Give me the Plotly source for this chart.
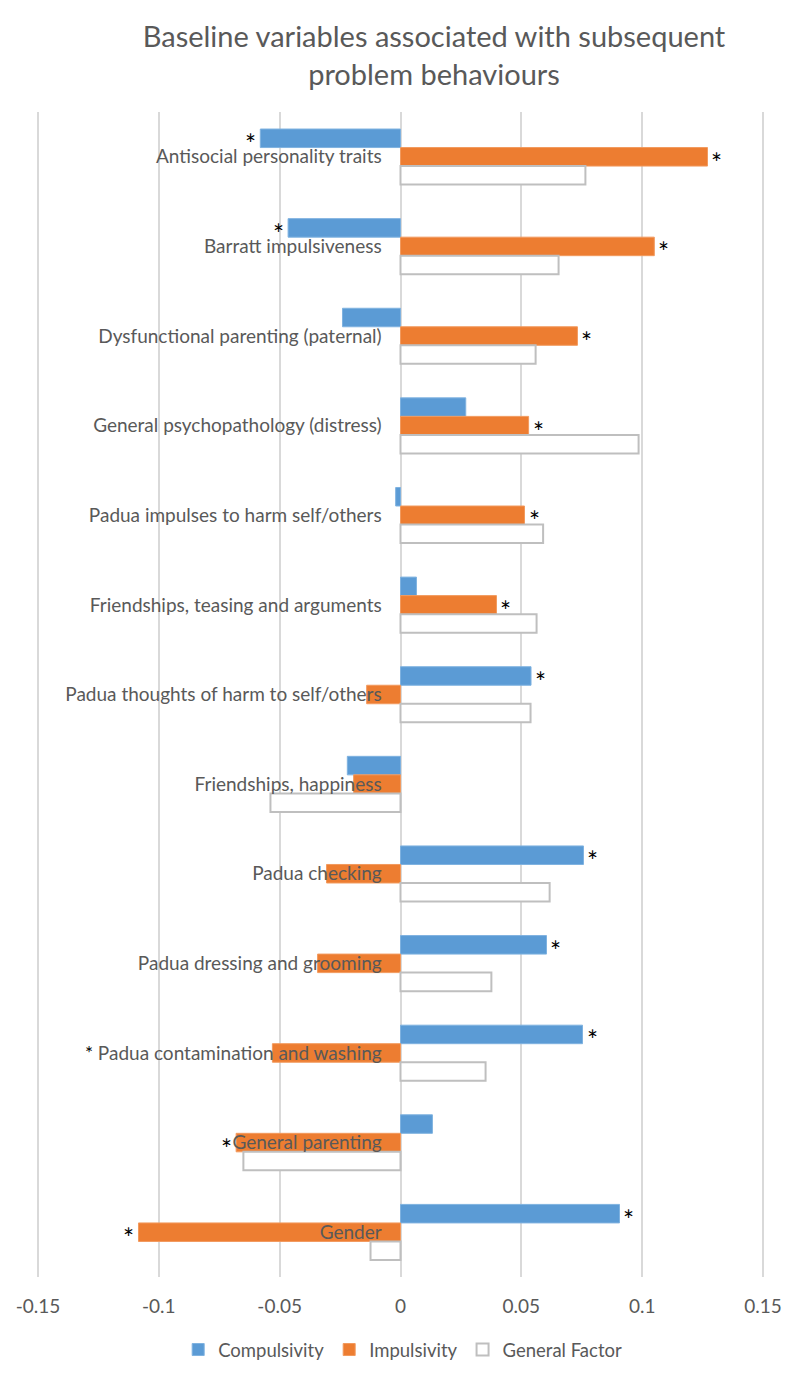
import plotly.graph_objects as go

categories = [
    "Antisocial personality traits",
    "Barratt impulsiveness",
    "Dysfunctional parenting (paternal)",
    "General psychopathology (distress)",
    "Padua impulses to harm self/others",
    "Friendships, teasing and arguments",
    "Padua thoughts of harm to self/others",
    "Friendships, happiness",
    "Padua checking",
    "Padua dressing and grooming",
    "Padua contamination and washing",
    "General parenting",
    "Gender",
]
compulsivity = [-0.058, -0.0465, -0.024, 0.027, -0.002, 0.0066, 0.054, -0.022, 0.0757, 0.0604, 0.0753, 0.0132, 0.0906]
impulsivity = [0.127, 0.105, 0.0732, 0.053, 0.0513, 0.0397, -0.014, -0.0194, -0.0306, -0.0343, -0.053, -0.068, -0.1084]
general_factor = [0.0765, 0.0654, 0.0559, 0.0985, 0.059, 0.0563, 0.0538, -0.0538, 0.0617, 0.0376, 0.0352, -0.065, -0.0124]
# significance: 1 = asterisk at bar end, 2 = asterisk before category label
comp_sig = [1, 1, 0, 0, 0, 0, 1, 0, 1, 1, 1, 0, 1]
imp_sig = [1, 1, 1, 1, 1, 1, 0, 0, 0, 0, 2, 1, 1]
tick_vals = [-0.15, -0.1, -0.05, 0, 0.05, 0.1, 0.15]
tick_text = ["-0.15", "-0.1", "-0.05", "0", "0.05", "0.1", "0.15"]

FONT = "Lato"
GREY = "#595959"

labels = []
for c, s in zip(categories, imp_sig):
    if s == 2:
        labels.append("<span style='color:black'>*</span> " + c)
    else:
        labels.append(c)

fig = go.Figure()
fig.add_trace(go.Bar(name="Compulsivity", y=labels, x=compulsivity, orientation="h",
                     marker=dict(color="#5B9BD5", line=dict(color="#7FB2E0", width=1))))
fig.add_trace(go.Bar(name="Impulsivity", y=labels, x=impulsivity, orientation="h",
                     marker=dict(color="#ED7D31", line=dict(color="#F29A5E", width=1))))
fig.add_trace(go.Bar(name="General Factor", y=labels, x=general_factor, orientation="h",
                     marker=dict(color="#FFFFFF", line=dict(color="#BFBFBF", width=2))))

BAR_PX = 18.5
annotations = []
for lab, v, s in zip(labels, compulsivity, comp_sig):
    if s == 1:
        annotations.append(dict(x=v, y=lab, text="*", showarrow=False,
                                xanchor="left" if v > 0 else "right",
                                xshift=2 if v > 0 else -2, yshift=BAR_PX - 6,
                                font=dict(family=FONT, size=26, color="black")))
for lab, v, s in zip(labels, impulsivity, imp_sig):
    if s == 1:
        annotations.append(dict(x=v, y=lab, text="*", showarrow=False,
                                xanchor="left" if v > 0 else "right",
                                xshift=2 if v > 0 else -2, yshift=-6,
                                font=dict(family=FONT, size=26, color="black")))

fig.update_layout(
    width=800, height=1376,
    paper_bgcolor="white", plot_bgcolor="white",
    margin=dict(l=28, r=43, t=104, b=107),
    title=dict(text="Baseline variables associated with subsequent<br>problem behaviours",
               x=(434 - 8) / 800, xanchor="center", y=1 - 39 / 1376, yanchor="middle", yref="container",
               font=dict(family=FONT, size=29, color=GREY)),
    barmode="group", bargap=0.38, bargroupgap=0,
    font=dict(family=FONT, size=19, color=GREY),
    showlegend=True,
    legend=dict(orientation="h", x=0.503, xanchor="center", y=-73 / 1165, yanchor="middle",
                font=dict(family=FONT, size=18.5, color=GREY), traceorder="normal"),
    xaxis=dict(range=[-0.1508, 0.1508], tickvals=tick_vals, ticktext=tick_text,
               showgrid=True, gridcolor="#D9D9D9", gridwidth=1.5,
               zeroline=True, zerolinecolor="#D9D9D9", zerolinewidth=1.5,
               showline=False, ticks="outside", ticklen=12, tickcolor="rgba(0,0,0,0)",
               tickfont=dict(family=FONT, size=19, color=GREY), automargin=False),
    yaxis=dict(type="category", categoryorder="array", categoryarray=labels,
               autorange="reversed", anchor="free", position=0.5, side="left",
               showgrid=False, zeroline=False, showline=False,
               ticks="outside", ticklen=15, tickcolor="rgba(0,0,0,0)",
               tickfont=dict(family=FONT, size=19, color=GREY), automargin=False),
    annotations=annotations,
)

fig.write_html("out.html")
